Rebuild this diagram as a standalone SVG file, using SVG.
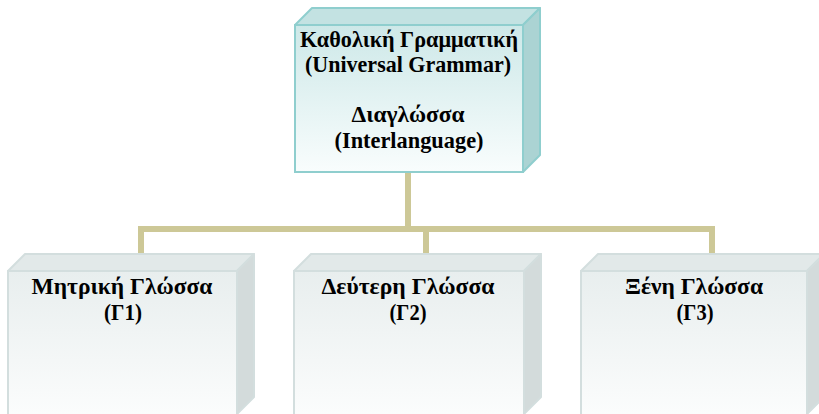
<svg xmlns="http://www.w3.org/2000/svg" width="819" height="414" viewBox="0 0 819 414">
<defs>
<linearGradient id="gTop" x1="0" y1="0" x2="0" y2="1">
<stop offset="0" stop-color="#cde8e8"/>
<stop offset="1" stop-color="#f9fdfd"/>
</linearGradient>
<linearGradient id="gLow" x1="0" y1="0" x2="0" y2="1">
<stop offset="0" stop-color="#e8eeee"/>
<stop offset="1" stop-color="#fcfdfd"/>
</linearGradient>
<style>
.t{font-family:'Liberation Serif','DejaVu Serif',serif;font-weight:bold;font-size:23px;fill:#000;text-anchor:middle}
.tf{fill:#c3e2e2;stroke:#8fcece;stroke-width:2;stroke-linejoin:round}
.ts{fill:#abd3d3;stroke:#8fcece;stroke-width:2;stroke-linejoin:round}
.tfr{fill:url(#gTop);stroke:#8fcece;stroke-width:2}
.lf{fill:#e2e9e9;stroke:#d3dede;stroke-width:2;stroke-linejoin:round}
.ls{fill:#d3dbdb;stroke:#d3dede;stroke-width:2;stroke-linejoin:round}
.lfr{fill:url(#gLow);stroke:#d3dede;stroke-width:2}
.c{fill:none;stroke:#cdc897;stroke-width:6}
</style>
</defs>
<rect width="819" height="414" fill="#fff"/>
<g id="connectors">
<path class="c" d="M408 172 V229"/>
<path class="c" d="M141 253 V229 H712 V253"/>
<path class="c" d="M426 229 V253"/>
</g>
<g id="ug">
<polygon class="tf" points="295,25 312,8 540,8 523,25"/>
<polygon class="ts" points="523,25 540,8 540,155 523,172"/>
<rect class="tfr" x="295" y="25" width="228" height="147"/>
<text class="t" x="409" y="47" textLength="218" lengthAdjust="spacingAndGlyphs">Καθολική Γραμματική</text>
<text class="t" x="408" y="72" textLength="206" lengthAdjust="spacingAndGlyphs">(Universal Grammar)</text>
<text class="t" x="408" y="122" textLength="113" lengthAdjust="spacingAndGlyphs">Διαγλώσσα</text>
<text class="t" x="409" y="148" textLength="149" lengthAdjust="spacingAndGlyphs">(Interlanguage)</text>
</g>
<g id="l1">
<polygon class="lf" points="8,271 25,254 254,254 237,271"/>
<polygon class="ls" points="237,271 254,254 254,397 237,414"/>
<rect class="lfr" x="8" y="271" width="229" height="150"/>
<text class="t" x="122" y="294" textLength="181" lengthAdjust="spacingAndGlyphs">Μητρική Γλώσσα</text>
<text class="t" x="123" y="320" textLength="38" lengthAdjust="spacingAndGlyphs">(Γ1)</text>
</g>
<g id="l2">
<polygon class="lf" points="294,271 311,254 541,254 524,271"/>
<polygon class="ls" points="524,271 541,254 541,397 524,414"/>
<rect class="lfr" x="294" y="271" width="230" height="150"/>
<text class="t" x="408" y="294" textLength="173" lengthAdjust="spacingAndGlyphs">Δεύτερη Γλώσσα</text>
<text class="t" x="408" y="320" textLength="37" lengthAdjust="spacingAndGlyphs">(Γ2)</text>
</g>
<g id="l3">
<polygon class="lf" points="581,271 598,254 824,254 807,271"/>
<polygon class="ls" points="807,271 824,254 824,397 807,414"/>
<rect class="lfr" x="581" y="271" width="226" height="150"/>
<text class="t" x="694" y="294" textLength="138" lengthAdjust="spacingAndGlyphs">Ξένη Γλώσσα</text>
<text class="t" x="695" y="320" textLength="37" lengthAdjust="spacingAndGlyphs">(Γ3)</text>
</g>
</svg>
